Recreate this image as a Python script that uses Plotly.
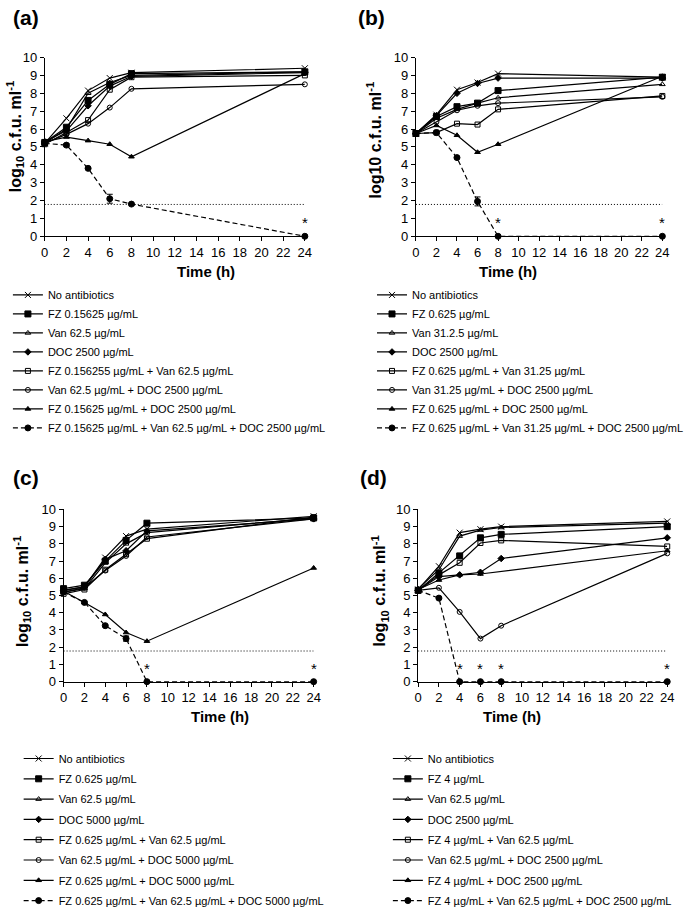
import plotly.graph_objects as go

W, H = 689, 916
FONT = "Liberation Sans, Arial, sans-serif"

# sampling times (h) and detection limit (log10 cfu/ml)
time_h = [0, 2, 4, 6, 8, 24]
lod = 1.78

symbols = ["x-thin", "square", "triangle-up-open", "diamond",
           "square-open", "circle-open", "triangle-up", "circle"]

# ---- panel (a)
a_labels = ["No antibiotics", "FZ 0.15625 µg/mL", "Van 62.5 µg/mL", "DOC 2500 µg/mL",
            "FZ 0.156255 µg/mL + Van 62.5 µg/mL", "Van 62.5 µg/mL + DOC 2500 µg/mL",
            "FZ 0.15625 µg/mL + DOC 2500 µg/mL",
            "FZ 0.15625 µg/mL + Van 62.5 µg/mL + DOC 2500 µg/mL"]
a_cfu = [[5.2, 6.6, 8.15, 8.85, 9.15, 9.4],
         [5.25, 6.1, 7.6, 8.5, 9.1, 9.2],
         [5.2, 6.0, 8.0, 8.6, 9.0, 9.2],
         [5.3, 5.9, 7.3, 8.4, 8.95, 9.15],
         [5.15, 5.8, 6.5, 8.2, 8.9, 9.0],
         [5.2, 5.7, 6.3, 7.2, 8.25, 8.5],
         [5.3, 5.55, 5.35, 5.15, 4.45, 9.1],
         [5.2, 5.1, 3.8, 2.1, 1.8, 0]]
a_err = [0.05, 0.08, 0.05, 0.25, 0.05, 0]
a_stars = [24]

# ---- panel (b)
b_labels = ["No antibiotics", "FZ 0.625 µg/mL", "Van 31.2.5 µg/mL", "DOC 2500 µg/mL",
            "FZ 0.625 µg/mL + Van 31.25 µg/mL", "Van 31.25 µg/mL + DOC 2500 µg/mL",
            "FZ 0.625 µg/mL + DOC 2500 µg/mL",
            "FZ 0.625 µg/mL + Van 31.25 µg/mL + DOC 2500 µg/mL"]
b_cfu = [[5.75, 6.8, 8.2, 8.6, 9.1, 8.9],
         [5.75, 6.7, 7.25, 7.45, 8.15, 8.9],
         [5.75, 6.6, 7.1, 7.45, 7.75, 8.5],
         [5.75, 6.75, 8.0, 8.55, 8.85, 8.85],
         [5.75, 5.8, 6.3, 6.25, 7.1, 7.85],
         [5.75, 6.4, 7.05, 7.3, 7.45, 7.8],
         [5.75, 6.2, 5.65, 4.7, 5.15, 8.95],
         [5.75, 5.8, 4.4, 1.95, 0, 0]]
b_err = [0.05, 0.05, 0.05, 0.25, 0, 0]
b_stars = [8, 24]

# ---- panel (c)
c_labels = ["No antibiotics", "FZ 0.625 µg/mL", "Van 62.5 µg/mL", "DOC 5000 µg/mL",
            "FZ 0.625 µg/mL + Van 62.5 µg/mL", "Van 62.5 µg/mL + DOC 5000 µg/mL",
            "FZ 0.625 µg/mL + DOC 5000 µg/mL",
            "FZ 0.625 µg/mL + Van 62.5 µg/mL + DOC 5000 µg/mL"]
c_cfu = [[5.3, 5.5, 7.2, 8.45, 8.85, 9.6],
         [5.4, 5.6, 7.0, 8.2, 9.2, 9.5],
         [5.2, 5.4, 6.9, 8.0, 8.65, 9.5],
         [5.3, 5.5, 7.1, 7.6, 8.75, 9.45],
         [5.1, 5.35, 6.5, 7.4, 8.3, 9.55],
         [5.2, 5.45, 6.45, 7.3, 8.4, 9.45],
         [5.25, 4.6, 3.9, 2.85, 2.35, 6.6],
         [5.2, 4.6, 3.25, 2.5, 0, 0]]
c_err = [0.05, 0.05, 0.05, 0.15, 0, 0]
c_stars = [8, 24]

# ---- panel (d)
d_labels = ["No antibiotics", "FZ 4 µg/mL", "Van 62.5 µg/mL", "DOC 2500 µg/mL",
            "FZ 4 µg/mL + Van 62.5 µg/mL", "Van 62.5 µg/mL + DOC 2500 µg/mL",
            "FZ 4 µg/mL + DOC 2500 µg/mL",
            "FZ 4 µg/mL + Van 62.5 µg/mL + DOC 2500 µg/mL"]
d_cfu = [[5.35, 6.7, 8.65, 8.85, 9.0, 9.3],
         [5.3, 6.3, 7.3, 8.35, 8.55, 9.0],
         [5.4, 6.5, 8.45, 8.8, 8.95, 9.2],
         [5.3, 6.1, 6.2, 6.35, 7.15, 8.35],
         [5.3, 6.2, 6.9, 8.05, 8.2, 7.85],
         [5.3, 5.45, 4.05, 2.5, 3.25, 7.45],
         [5.35, 5.9, 6.2, 6.25, None, 7.6],
         [5.3, 4.85, 0, 0, 0, 0]]
d_err = [0.05, 0.05, 0, 0, 0, 0]
d_stars = [4, 6, 8, 24]


def px(x):
    return x / W


def py(y):
    return 1 - y / H


# pixel boxes of each panel: (x0, x1, y_top, y_bottom)
panels = [
    ("(a)", a_labels, a_cfu, a_err, a_stars, (41.7, 308, 52.3, 237.3), "log<sub>10</sub> c.f.u. ml<sup>-1</sup>"),
    ("(b)", b_labels, b_cfu, b_err, b_stars, (421.7, 674, 52.3, 237.3), "log10 c.f.u. ml<sup>-1</sup>"),
    ("(c)", c_labels, c_cfu, c_err, c_stars, (61, 317, 520, 698.3), "log<sub>10</sub> c.f.u. ml<sup>-1</sup>"),
    ("(d)", d_labels, d_cfu, d_err, d_stars, (424, 679, 520, 698.3), "log<sub>10</sub> c.f.u. ml<sup>-1</sup>"),
]
# legend top-left corners (pixels), row gaps, and panel label / y-title positions
legend_pos = [(4, 283), (377, 283), (15, 763), (393, 763)]
legend_gap = [0, 0, 1.3, 1.3]
label_pos = [(7, 11), (360, 11), (7, 487), (362, 487)]
ytitle_pos = [(12, 134), (379, 138), (18, 605), (384, 605)]

fig = go.Figure()
annotations = []
layout = {}

for i, (tag, labels, cfu, err, stars, box, ytitle) in enumerate(panels):
    n = "" if i == 0 else str(i + 1)
    xa, ya = "x" + n, "y" + n
    lg = "legend" + n
    x0, x1, yt, yb = box

    for k, (lab, vals) in enumerate(zip(labels, cfu)):
        last = k == len(labels) - 1
        sym = symbols[k]
        size = 6 if sym in ("circle", "square", "x-thin") else 5
        fig.add_trace(go.Scatter(
            x=time_h, y=vals, name=lab, xaxis=xa, yaxis=ya, legend=lg,
            legendgroup=f"{tag}{k}",
            mode="lines+markers", connectgaps=True, cliponaxis=False,
            line=dict(color="black", width=1.2, dash="5px,3px" if last else "solid"),
            marker=dict(symbol=sym, size=size, color="black",
                        line=dict(color="black", width=1)),
            error_y=dict(type="data", array=err, color="black", thickness=1, width=3) if last else None,
        ))

    # detection limit
    fig.add_trace(go.Scatter(
        x=[0, 24], y=[lod, lod], xaxis=xa, yaxis=ya, mode="lines", showlegend=False,
        line=dict(color="black", width=1, dash="1px,2px"), hoverinfo="skip",
    ))

    for t in stars:
        annotations.append(dict(x=t, y=0.78, xref=xa, yref=ya, text="*", showarrow=False,
                                font=dict(size=15, color="black", family=FONT)))

    axis_common = dict(showgrid=False, zeroline=False, showline=True, linecolor="black",
                       linewidth=1, ticks="outside", ticklen=4, tickcolor="black",
                       tickfont=dict(size=13, color="black", family=FONT))
    layout["xaxis" + n] = dict(axis_common, domain=[px(x0), px(x1)], range=[0, 24],
                               tick0=0, dtick=2, anchor=ya)
    layout["yaxis" + n] = dict(axis_common, domain=[py(yb), py(yt)], range=[0, 10],
                               tick0=0, dtick=1, anchor=xa)

    lx, ly = legend_pos[i]
    layout[lg] = dict(x=px(lx), y=py(ly), xanchor="left", yanchor="top",
                      bgcolor="rgba(0,0,0,0)", tracegroupgap=legend_gap[i],
                      font=dict(size=11, color="black", family=FONT))

    annotations.append(dict(x=px((x0 + x1) / 2), y=py(yb + 36), xref="paper", yref="paper",
                            text="<b>Time (h)</b>", showarrow=False, yanchor="middle",
                            font=dict(size=15, color="black", family=FONT)))
    tx, ty = ytitle_pos[i]
    annotations.append(dict(x=px(tx), y=py(ty), xref="paper", yref="paper",
                            text="<b>" + ytitle + "</b>", showarrow=False, textangle=-90,
                            xanchor="center", yanchor="middle",
                            font=dict(size=16, color="black", family=FONT)))
    lbx, lby = label_pos[i]
    annotations.append(dict(x=px(lbx), y=py(lby), xref="paper", yref="paper",
                            text="<b>" + tag + "</b>", showarrow=False, xanchor="left",
                            yanchor="middle", font=dict(size=21, color="black", family=FONT)))

fig.update_layout(
    **layout,
    width=W, height=H,
    margin=dict(l=0, r=0, t=0, b=0),
    paper_bgcolor="white", plot_bgcolor="white",
    font=dict(family=FONT, color="black"),
    annotations=annotations,
)

# drop the page's default body margin so the figure fills the window exactly
fig.write_html("out.html", config={"displayModeBar": False},
               post_script="document.body.style.margin='0';")
